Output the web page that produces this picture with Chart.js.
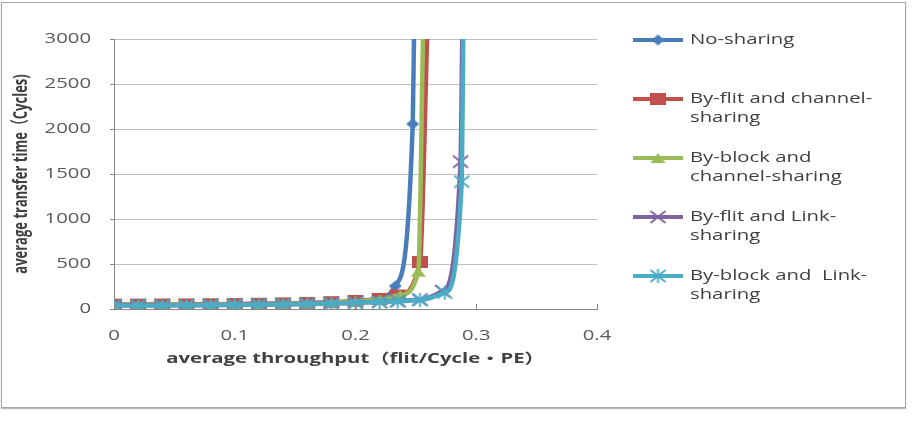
<!DOCTYPE html>
<html><head><meta charset="utf-8">
<script src="https://cdn.jsdelivr.net/npm/chart.js@4.4.0/dist/chart.umd.min.js"></script>
<style>
html,body{margin:0;padding:0;background:#fff;}
#wrap{position:relative;width:912px;height:423px;}
#frame{position:absolute;left:1px;top:2px;width:903px;height:404px;border:1px solid #a6a6a6;box-shadow:0 1px 1px #bbb;}
canvas{position:absolute;left:0;top:0;}
</style></head><body>
<div id="wrap"><div id="frame"></div><canvas id="c" width="912" height="423"></canvas></div>
<script>
// ---- data ----
const seriesNames = [
  ["No-sharing"],
  ["By-flit and channel-", "sharing"],
  ["By-block and", "channel-sharing"],
  ["By-flit and Link-", "sharing"],
  ["By-block and  Link-", "sharing"]
];
const noSharingX = [0,0.02,0.04,0.06,0.08,0.10,0.12,0.14,0.16,0.18,0.20,0.22,0.233,0.2474,0.2485];
const noSharingY = [45,46,47,48,50,52,55,59,64,72,85,110,255,2055,3100];
const flitChannelX = [0,0.02,0.04,0.06,0.08,0.10,0.12,0.14,0.16,0.18,0.20,0.22,0.235,0.2534,0.2595];
const flitChannelY = [48,49,50,51,53,55,58,62,68,76,90,112,150,522,3100];
const blockChannelX = [0,0.02,0.04,0.06,0.08,0.10,0.12,0.14,0.16,0.18,0.20,0.22,0.237,0.252,0.256];
const blockChannelY = [44,45,46,47,49,51,54,58,63,70,82,105,155,415,3100];
const flitLinkX = [0,0.02,0.04,0.06,0.08,0.10,0.12,0.14,0.16,0.18,0.20,0.22,0.235,0.2534,0.272,0.287,0.2885];
const flitLinkY = [40,41,42,43,45,47,50,53,57,62,70,80,90,105,200,1637,3100];
const blockLinkX = [0,0.02,0.04,0.06,0.08,0.10,0.12,0.14,0.16,0.18,0.20,0.22,0.235,0.2534,0.274,0.288,0.2893];
const blockLinkY = [38,39,40,41,43,45,48,51,55,60,68,78,85,100,182,1415,3100];
const xTicks = [0,0.1,0.2,0.3,0.4];
const xTickLabels = ["0","0.1","0.2","0.3","0.4"];
const yTicks = [0,500,1000,1500,2000,2500,3000];
const yTickLabels = ["0","500","1000","1500","2000","2500","3000"];
const xTitle = "average throughput（flit/Cycle・PE）";
const yTitle = "average transfer time（Cycles)";

const colors = ["#4a7ebb","#c0504d","#9bbb59","#8064a2","#4bacc6"];
const shapes = ["diamond","square","triangle","cross","star"];
const markerSize = [[13,11],[16,12],[15,10],[15,12],[15,12]];

// marker images (the reference is horizontally stretched)
function makeMarker(shape, w, h, color){
  const pad = 2;
  const cv = document.createElement('canvas');
  cv.width = w + pad*2; cv.height = h + pad*2;
  const c = cv.getContext('2d');
  c.translate(pad, pad);
  c.fillStyle = color; c.strokeStyle = color; c.lineWidth = 2;
  c.beginPath();
  if (shape === 'diamond') { c.moveTo(w/2,0); c.lineTo(w,h/2); c.lineTo(w/2,h); c.lineTo(0,h/2); c.closePath(); c.fill(); }
  else if (shape === 'square') { c.fillRect(0,0,w,h); }
  else if (shape === 'triangle') { c.moveTo(w/2,0); c.lineTo(w,h); c.lineTo(0,h); c.closePath(); c.fill(); }
  else if (shape === 'cross') { c.moveTo(0,0); c.lineTo(w,h); c.moveTo(w,0); c.lineTo(0,h); c.stroke(); }
  else if (shape === 'star') { c.moveTo(0,0); c.lineTo(w,h); c.moveTo(w,0); c.lineTo(0,h); c.moveTo(w/2,-1); c.lineTo(w/2,h+1); c.stroke(); }
  return cv;
}
const markers = shapes.map((s,i)=>makeMarker(s, markerSize[i][0], markerSize[i][1], colors[i]));

const xs = [noSharingX, flitChannelX, blockChannelX, flitLinkX, blockLinkX];
const ys = [noSharingY, flitChannelY, blockChannelY, flitLinkY, blockLinkY];

const datasets = xs.map((xa,i)=>({
  label: seriesNames[i].join(" "),
  data: xa.map((x,j)=>({x:x, y:ys[i][j]})),
  borderColor: colors[i],
  backgroundColor: colors[i],
  borderWidth: 4.5,
  pointStyle: markers[i],
  pointRadius: c => (c.raw && c.raw.y > 3000) ? 0 : 6,
  cubicInterpolationMode: 'monotone',
  order: 5 - i
}));

const AXIS = "#868686";
const TXT = "#595959";

// horizontal stretch of text, like the reference picture
const SX = 1.45;
const canvas = document.getElementById('c');
const ctx0 = canvas.getContext('2d');
const origFill = ctx0.fillText.bind(ctx0);
ctx0.fillText = function(text, x, y, maxWidth){
  const m = ctx0.getTransform();
  const px = m.a*x + m.c*y + m.e;
  ctx0.save();
  ctx0.setTransform(SX*m.a, m.b, SX*m.c, m.d, SX*m.e + px*(1-SX), m.f);
  if (maxWidth === undefined) origFill(text, x, y); else origFill(text, x, y, maxWidth);
  ctx0.restore();
};

const extras = {
  id: 'extras',
  afterDraw(chart){
    const ctx = chart.ctx;
    const xs_ = chart.scales.x, ca = chart.chartArea;
    ctx.save();
    ctx.strokeStyle = AXIS; ctx.lineWidth = 1;
    xTicks.forEach(v=>{
      const px = Math.round(xs_.getPixelForValue(v)) + 0.5;
      ctx.beginPath(); ctx.moveTo(px, ca.bottom); ctx.lineTo(px, ca.bottom - 5); ctx.stroke();
    });
    // legend
    const ys0 = [40, 99, 158, 217, 276];
    ctx.font = '14px "Open Sans"';
    ctx.textBaseline = 'middle';
    ctx.textAlign = 'left';
    datasets.forEach((d,i)=>{
      const y = ys0[i];
      ctx.strokeStyle = d.borderColor; ctx.lineWidth = 4;
      ctx.beginPath(); ctx.moveTo(633, y); ctx.lineTo(683, y); ctx.stroke();
      const mk = markers[i];
      ctx.drawImage(mk, 658 - mk.width/2, y - mk.height/2);
      ctx.fillStyle = "#404040";
      seriesNames[i].forEach((t,k)=> ctx.fillText(t, 690, y + k*19));
    });
    ctx.restore();
  }
};

new Chart(canvas, {
  type: 'line',
  data: { datasets },
  options: {
    responsive: false,
    animation: false,
    devicePixelRatio: 1,
    layout: { padding: { left: 0, right: 315, top: 39, bottom: 0 } },
    plugins: { legend: { display: false }, tooltip: { enabled: false } },
    scales: {
      x: {
        type: 'linear', min: 0, max: 0.4,
        afterBuildTicks: s => { s.ticks = xTicks.map(v=>({value:v})); },
        afterFit: s => { s.height = 114; },
        grid: { display: true, drawOnChartArea: false, drawTicks: false },
        border: { display: true, color: AXIS, width: 1 },
        ticks: { padding: 19, color: TXT, font: { family: '"Open Sans"', size: 14 },
                 callback: (v,i) => xTickLabels[i], maxRotation: 0, autoSkip: false },
        title: { display: true, text: xTitle, color: "#404040",
                 font: { family: '"Open Sans", "Noto Sans CJK SC"', size: 14, weight: 'bold' },
                 padding: { top: 0, bottom: 56 } }
      },
      y: {
        type: 'linear', min: 0, max: 3000,
        afterBuildTicks: s => { s.ticks = yTicks.map(v=>({value:v})); },
        afterFit: s => { s.width = 114; },
        grid: { color: "#c0c0c0", tickLength: 4, tickColor: AXIS },
        border: { display: true, color: AXIS, width: 1 },
        ticks: { padding: 19, color: TXT, font: { family: '"Open Sans"', size: 14 },
                 callback: (v,i) => yTickLabels[i] },
        title: { display: true, text: yTitle, color: "#404040",
                 font: { family: '"Open Sans", "Noto Sans CJK SC"', size: 13, weight: 'bold' },
                 padding: { top: 14, bottom: 0 } }
      }
    }
  },
  plugins: [extras]
});
</script>
</body></html>
